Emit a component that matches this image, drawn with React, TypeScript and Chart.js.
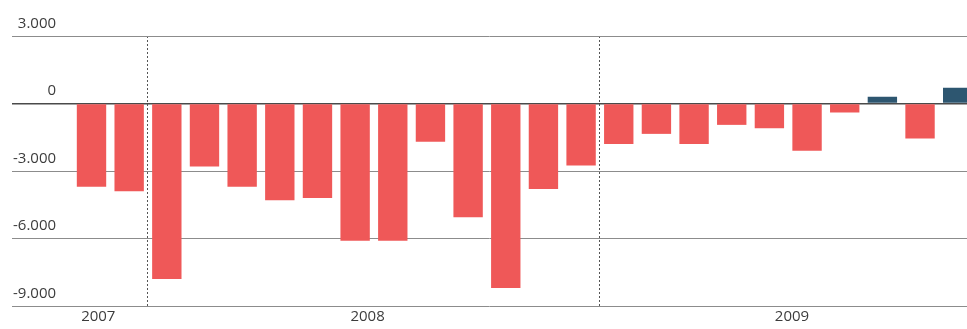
import React, { useEffect, useRef } from 'react';
import { Chart, registerables } from 'chart.js';

Chart.register(...registerables);

// Monthly values (Nov 2007 – Oct 2009)
const months = [
  'Nov 2007', 'Dec 2007',
  'Jan 2008', 'Feb 2008', 'Mar 2008', 'Apr 2008', 'May 2008', 'Jun 2008',
  'Jul 2008', 'Aug 2008', 'Sep 2008', 'Oct 2008', 'Nov 2008', 'Dec 2008',
  'Jan 2009', 'Feb 2009', 'Mar 2009', 'Apr 2009', 'May 2009', 'Jun 2009',
  'Jul 2009', 'Aug 2009', 'Sep 2009', 'Oct 2009',
];
const values = [
  -3700, -3900,
  -7800, -2800, -3700, -4300, -4200, -6100, -6100, -1700, -5050, -8200, -3800, -2750,
  -1800, -1350, -1800, -950, -1100, -2100, -400, 300, -1550, 700,
];
const yTickValues = [3000, 0, -3000, -6000, -9000];
const yearLabels = ['2007', '2008', '2009'];
// where each year label sits, in month-index units
const yearLabelAt = [0.18, 7.33, 18.6];

const RED = '#ef5858';
const BLUE = '#2d5670';
const TEXT = '#3c3c3c';
const FONT = { family: "'Open Sans', 'Noto Sans', sans-serif", size: 15 };

const yearOf = (m: string) => m.slice(-4);
const boundaries: number[] = [];
for (let i = 1; i < months.length; i++) {
  if (yearOf(months[i]) !== yearOf(months[i - 1])) boundaries.push(i - 0.5);
}

function fmt(v: number): string {
  const s = Math.abs(v).toString().replace(/\B(?=(\d{3})+(?!\d))/g, '.');
  return (v < 0 ? '-' : '') + s;
}

export default function App() {
  const ref = useRef<HTMLCanvasElement | null>(null);
  useEffect(() => {
    if (!ref.current) return;
    const chart = new Chart(ref.current, {
      type: 'bar',
      data: {
        datasets: [
          {
            data: values.map((v, i) => ({ x: i, y: v })),
            backgroundColor: values.map((v) => (v >= 0 ? BLUE : RED)),
            borderWidth: 0,
            barPercentage: 0.78,
            categoryPercentage: 1,
          },
        ],
      },
      options: {
        animation: false,
        responsive: true,
        maintainAspectRatio: false,
        layout: { padding: { left: 2, right: 0, top: 28, bottom: 1 } },
        plugins: { legend: { display: false }, tooltip: { enabled: false } },
        scales: {
          x: {
            type: 'linear',
            position: 'bottom',
            offset: false,
            min: -2.111,
            max: 23.247,
            afterBuildTicks: (s: any) => {
              s.ticks = [...yearLabelAt, ...boundaries]
                .sort((a, b) => a - b)
                .map((v) => ({ value: v }));
            },
            ticks: {
              autoSkip: false,
              maxRotation: 0,
              padding: 2,
              font: FONT,
              color: TEXT,
              callback: (v: any) => {
                const k = yearLabelAt.indexOf(v);
                return k >= 0 ? yearLabels[k] : '';
              },
            },
            grid: {
              offset: false,
              drawTicks: false,
              color: (c: any) =>
                c.tick && boundaries.includes(c.tick.value) ? '#555555' : 'rgba(0,0,0,0)',
              lineWidth: 1,
            },
            border: { display: false, dash: [2, 2] },
          },
          y: {
            position: 'left',
            min: -9000,
            max: 3000,
            afterBuildTicks: (s: any) => {
              s.ticks = yTickValues.map((v) => ({ value: v }));
            },
            ticks: {
              mirror: true,
              crossAlign: 'far',
              padding: 1,
              labelOffset: -12.5,
              font: FONT,
              color: TEXT,
              callback: (v: any) => fmt(Number(v)),
            },
            grid: {
              drawTicks: false,
              color: (c: any) => (c.tick && c.tick.value === 0 ? '#4a4a4a' : '#8c8c8c'),
              lineWidth: (c: any) => (c.tick && c.tick.value === 0 ? 1.5 : 1),
            },
            border: { display: false },
          },
        },
      },
    } as any);
    return () => chart.destroy();
  }, []);
  return (
    <div style={{ position: 'absolute', left: 8, top: 8, width: 959, height: 321 }}>
      <canvas ref={ref} />
    </div>
  );
}
